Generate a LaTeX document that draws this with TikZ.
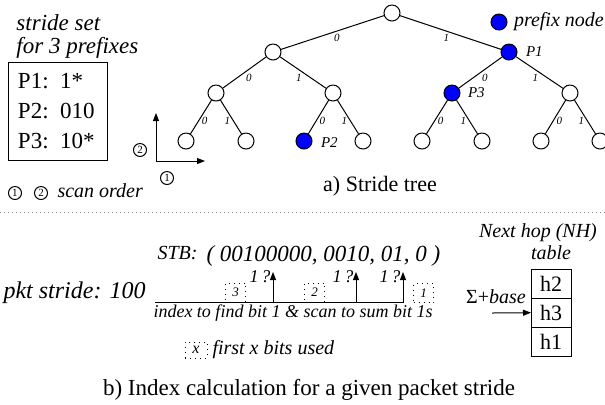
\documentclass[tikz,border=0pt]{standalone}
\usepackage{fontspec}
\setmainfont{Liberation Serif}
\usetikzlibrary{arrows.meta,positioning}

\begin{document}
\begin{tikzpicture}[x=0.5pt, y=-0.5pt, line width=0.5pt,
    vtx/.style={circle, draw, fill=white, minimum size=8pt, inner sep=0pt},
    pfx/.style={vtx, fill=blue},
    bitlbl/.style={font=\fontsize{5.5}{6}\selectfont\itshape, inner sep=0.5pt},
    e0/.style={bitlbl, midway, anchor=north west},
    e1/.style={bitlbl, midway, anchor=north east},
    f0/.style={bitlbl, pos=0.62, anchor=west, xshift=1pt},
    f1/.style={bitlbl, pos=0.62, anchor=east, xshift=-1pt},
    plbl/.style={font=\fontsize{7.5}{8}\selectfont\itshape, inner sep=1pt},
    lbl/.style={font=\fontsize{10}{10}\selectfont\itshape, inner sep=1pt},
    capt/.style={font=\fontsize{11}{12}\selectfont},
    num/.style={circle, draw, minimum size=6.5pt, inner sep=0pt, font=\fontsize{5.5}{6}\selectfont},
    arr/.style={-{Triangle[length=4pt, width=3pt]}},
    bitbox/.style={draw, dotted, minimum width=10pt, minimum height=9.5pt, inner sep=0pt, font=\fontsize{6.5}{7}\selectfont\itshape},
    cell/.style={draw, minimum width=20pt, minimum height=14.5pt, inner sep=0pt, outer sep=0pt, font=\fontsize{11}{12}\selectfont},
    qlbl/.style={font=\fontsize{9}{9}\selectfont\itshape, inner sep=1pt}
]
\useasboundingbox (0,0) rectangle (605,404);

% stride set (left)
\node[lbl, align=left, anchor=west, font=\fontsize{11.5}{11.5}\selectfont\itshape] (title) at (14,36) {stride set\\for 3 prefixes};
\node[draw, minimum width=49.5pt, minimum height=49pt, text width=39.5pt, inner xsep=5pt, align=left,
      font=\fontsize{11.5}{15}\selectfont] (set) at (57.5,111) {P1: 1*\\P2: 010\\P3: 10*};

% scan order axes
\coordinate (o) at (156,161);
\coordinate (oy) at (156,113);
\coordinate (ox) at (205,161);
\draw[arr] (o) -- (oy);
\draw[arr] (o) -- (ox);
\node[num] (s2) at (140,150) {2};
\node[num] (s1) at (167,178) {1};
\node[num] (k1) at (15,193) {1};
\node[num] (k2) at (41,193) {2};
\node[lbl, anchor=west] (scan) at (55,191) {scan order};

% stride tree
\node[vtx] (r) at (392,13) {};
\node[vtx] (n0) at (273,52) {};
\node[pfx] (n1) at (509,52) {};
\node[vtx] (n00) at (216,93) {};
\node[vtx] (n01) at (333,93) {};
\node[pfx] (n10) at (452,93) {};
\node[vtx] (n11) at (570,93) {};
\node[vtx] (n000) at (186,141) {};
\node[vtx] (n001) at (246,141) {};
\node[pfx] (n010) at (304,141) {};
\node[vtx] (n011) at (363,141) {};
\node[vtx] (n100) at (422,141) {};
\node[vtx] (n101) at (482,141) {};
\node[vtx] (n110) at (541,141) {};
\node[vtx] (n111) at (600,141) {};

\draw (r) -- node[e0] {0} (n0);
\draw (r) -- node[e1] {1} (n1);
\draw (n0) -- node[e0] {0} (n00);
\draw (n0) -- node[e1] {1} (n01);
\draw (n1) -- node[e0] {0} (n10);
\draw (n1) -- node[e1] {1} (n11);
\draw (n00) -- node[f0] {0} (n000);
\draw (n00) -- node[f1] {1} (n001);
\draw (n01) -- node[f0] {0} (n010);
\draw (n01) -- node[f1] {1} (n011);
\draw (n10) -- node[f0] {0} (n100);
\draw (n10) -- node[f1] {1} (n101);
\draw (n11) -- node[f0] {0} (n110);
\draw (n11) -- node[f1] {1} (n111);

\node[plbl, right=3pt of n1] (p1) {P1};
\node[plbl, right=2.5pt of n10] (p3) {P3};
\node[plbl, right=3pt of n010, yshift=-1pt] (p2) {P2};

% legend
\node[pfx] (key) at (499,22) {};
\node[lbl, right=2pt of key] (keytxt) {prefix node};

\node[capt] (capa) at (380,186) {a) Stride tree};

% separator
\draw[gray, dash pattern=on 0.5pt off 1.5pt] (0,212) -- (605,212);

% index calculation
\node[lbl, font=\fontsize{12}{12}\selectfont\itshape, anchor=east] (pkt) at (148,293) {pkt stride: 100};
\node[lbl, font=\fontsize{10}{10}\selectfont\itshape, anchor=west] (stb) at (155,253) {STB:};
\node[lbl, font=\fontsize{11.5}{11.5}\selectfont\itshape, anchor=west] (vec) at (204,256) {( 00100000, 0010, 01, 0 )};

\coordinate (sa) at (155,302);
\coordinate (sb) at (404,302);
\draw (sa) -- (sb);
\node[lbl, font=\fontsize{9}{9}\selectfont\itshape] (idx) at (293,313) {index to find bit 1 \& scan to sum bit 1s};

\node[bitbox] (b3) at (235.5,292.5) {3};
\node[bitbox] (b2) at (314.5,292.5) {2};
\node[bitbox] (b1) at (423.5,293) {1};

\coordinate (a1) at (273,302);
\coordinate (a1t) at (273,272);
\coordinate (a2) at (356,302);
\coordinate (a2t) at (356,272);
\coordinate (a3) at (403,302);
\coordinate (a3t) at (403,272);
\draw[arr] (a1) -- (a1t) node[qlbl, anchor=north east, yshift=2pt] {1\,?};
\draw[arr] (a2) -- (a2t) node[qlbl, anchor=north east, yshift=2pt] {1\,?};
\draw[arr] (a3) -- (a3t) node[qlbl, anchor=north east, yshift=2pt] {1\,?};

\node[bitbox, minimum width=11pt, minimum height=8pt, font=\fontsize{8}{8}\selectfont\itshape] (bx) at (196,350) {x};
\node[lbl, anchor=west] (used) at (210,350) {first x bits used};

% next hop table
\node[lbl] (nh1) at (538,233) {Next hop (NH)};
\node[lbl] (nh2) at (551,253) {table};
\node[cell] (h2) at (551,283.5) {h2};
\node[cell, below=0pt of h2] (h3) {h3};
\node[cell, below=0pt of h3] (h1) {h1};
\node[lbl, font=\fontsize{10}{10}\selectfont] (sum) at (496,297) {Σ+\textit{base}};
\coordinate (in) at (492,313);
\draw[arr] (in) -- (h3);

\node[capt, font=\fontsize{11.5}{12}\selectfont] (capb) at (309,390) {b) Index calculation for a given packet stride};

\end{tikzpicture}
\end{document}
